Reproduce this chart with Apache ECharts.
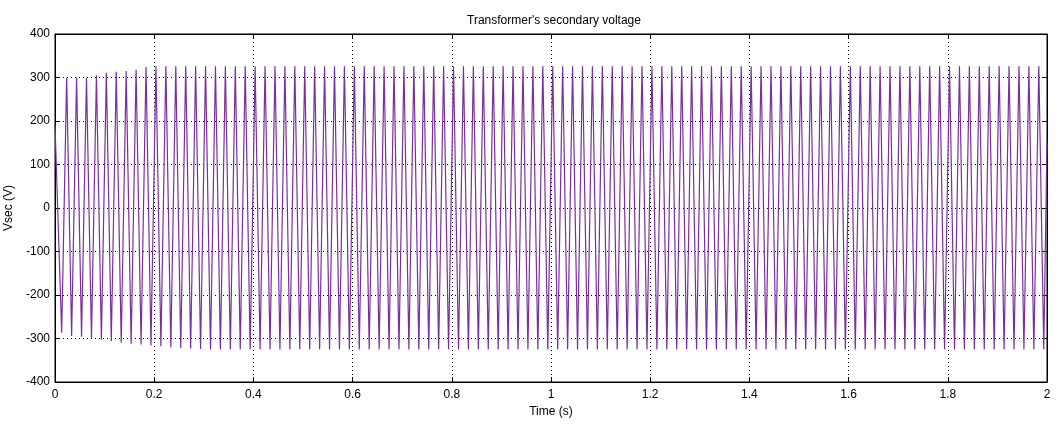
<!DOCTYPE html>
<html>
<head>
<meta charset="utf-8">
<script src="https://cdn.jsdelivr.net/npm/echarts@6/dist/echarts.min.js"></script>
<style>html,body{margin:0;padding:0;background:#fff}#c{width:1063px;height:429px}</style>
</head>
<body>
<div id="c"></div>
<script>
const titleText = "Transformer's secondary voltage";
const xTicks = [0, 0.2, 0.4, 0.6, 0.8, 1, 1.2, 1.4, 1.6, 1.8, 2];
const yTicks = [-400, -300, -200, -100, 0, 100, 200, 300, 400];
const startValue = 190;     // value at t = 0
const endValue = 150;       // value at t = 2
const firstTroughTime = 0.0135; // s
const halfPeriod = 0.01;        // s (50 Hz)
// Negative peaks (troughs), one per cycle
const troughs = [
  -287,-294,-296,-300,-302,-306,-310,-312,-314,-316,-318,-320,-322,-323,-324,-325,-325,-325,-325,-325,
  -325,-325,-325,-325,-325,-325,-325,-325,-325,-325,-325,-325,-325,-325,-325,-325,-325,-325,-325,-325,
  -325,-325,-325,-325,-325,-325,-325,-325,-325,-325,-325,-325,-325,-325,-325,-325,-325,-325,-325,-325,
  -325,-325,-325,-325,-325,-325,-325,-325,-325,-325,-325,-325,-325,-325,-325,-325,-325,-325,-325,-325,
  -325,-325,-325,-325,-325,-325,-325,-325,-325,-325,-325,-325,-325,-325,-325,-325,-325,-325,-325,-325
];
// Positive peaks, one per cycle (between troughs)
const peaks = [
  300,300,300,305,311,313,315,318,324,326,326,326,326,326,326,326,326,326,326,326,
  326,326,326,326,326,326,326,326,326,326,326,326,326,326,326,326,326,326,326,326,
  326,326,326,326,326,326,326,326,326,326,326,326,326,326,326,326,326,326,326,326,
  326,326,326,326,326,326,326,326,326,326,326,326,326,326,326,326,326,326,326,326,
  326,326,326,326,326,326,326,326,326,326,326,326,326,326,326,326,326,326,326
];

const data = [[0, startValue]];
for (let k = 0; k < troughs.length; k++) {
  data.push([firstTroughTime + 2 * k * halfPeriod, troughs[k]]);
  if (k < peaks.length) data.push([firstTroughTime + (2 * k + 1) * halfPeriod, peaks[k]]);
}
data.push([2, endValue]);

const font = 'Liberation Sans, Arial, sans-serif';
const chart = echarts.init(document.getElementById('c'), null, {renderer: 'canvas'});
const gridLine = {show: true, lineStyle: {color: '#000', type: [1, 3], width: 1}};
const tick = {show: true, inside: true, length: 5, lineStyle: {color: '#000'}};
const line = {show: true, onZero: false, lineStyle: {color: '#000'}};
chart.setOption({
  animation: false,
  backgroundColor: '#fff',
  title: {text: titleText, left: 549, top: 10, textAlign: 'center',
    textStyle: {fontFamily: font, fontSize: 12, fontWeight: 'normal', color: '#000'}},
  grid: {left: 55, right: 16, top: 34, bottom: 47, show: true, borderColor: '#000', borderWidth: 1,
    backgroundColor: '#fff', containLabel: false, outerBoundsMode: 'none'},
  xAxis: [{
    type: 'value', min: 0, max: 2, interval: 0.2,
    name: 'Time (s)', nameLocation: 'middle', nameGap: 22,
    nameTextStyle: {fontFamily: font, fontSize: 12, color: '#000'},
    axisLine: line, axisTick: tick,
    axisLabel: {fontFamily: font, fontSize: 12, color: '#000', margin: 7,
      formatter: v => String(+v.toFixed(1))},
    splitLine: gridLine
  }, {
    type: 'value', min: 0, max: 2, interval: 0.2, position: 'top',
    axisLine: line, axisTick: tick,
    axisLabel: {show: false}, splitLine: {show: false}
  }],
  yAxis: [{
    type: 'value', min: -400, max: 400, interval: 100,
    name: 'Vsec (V)', nameLocation: 'middle', nameGap: 38,
    nameTextStyle: {fontFamily: font, fontSize: 12, color: '#000'},
    axisLine: line, axisTick: tick,
    axisLabel: {fontFamily: font, fontSize: 12, color: '#000', margin: 5},
    splitLine: gridLine
  }, {
    type: 'value', min: -400, max: 400, interval: 100, position: 'right',
    axisLine: line, axisTick: tick,
    axisLabel: {show: false}, splitLine: {show: false}
  }],
  series: [{
    type: 'line', data: data, showSymbol: false, symbol: 'none',
    lineStyle: {color: '#7a2f9e', width: 1.2}, sampling: null, z: 3
  }]
});
</script>
</body>
</html>
